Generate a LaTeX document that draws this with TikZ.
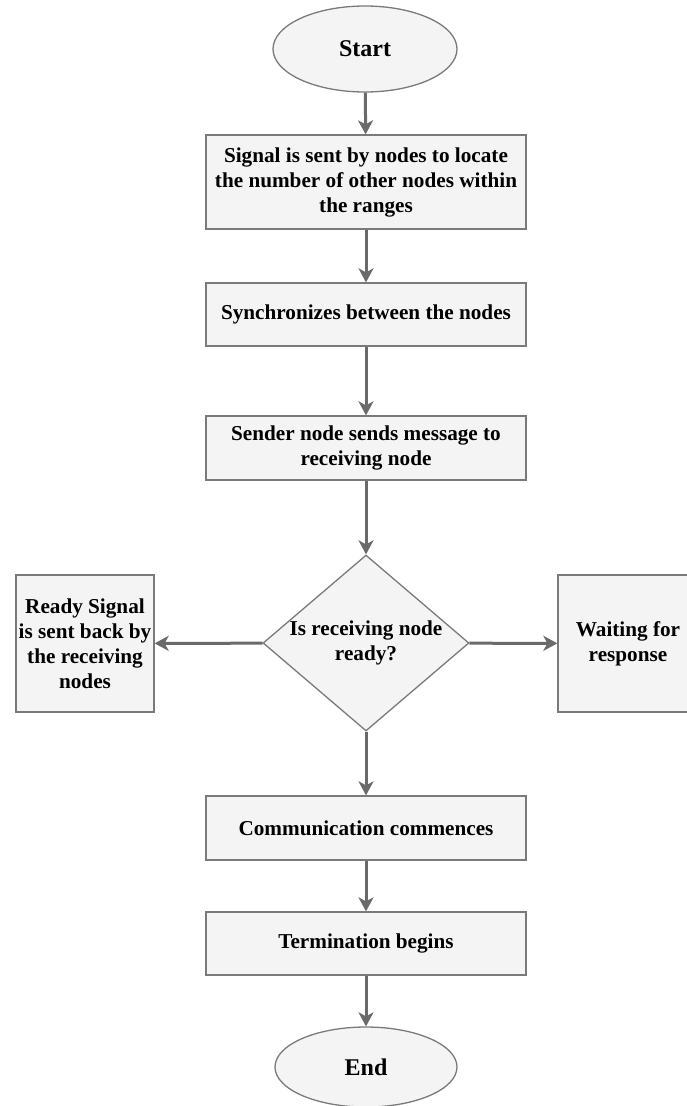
\documentclass[tikz,border=0pt]{standalone}
\usepackage{fontspec}
\setmainfont{Liberation Serif}
\usetikzlibrary{shapes.geometric,arrows.meta}
\definecolor{boxfill}{HTML}{F4F4F4}
\definecolor{boxline}{HTML}{7A7A7A}
\definecolor{arrowcol}{HTML}{6A6A6A}
\begin{document}
\begin{tikzpicture}[x=1pt,y=-1pt,
  base/.style={draw=boxline,fill=boxfill,line width=1.3pt,inner sep=0pt,align=center,
    font=\fontsize{21.2}{25}\selectfont\bfseries},
  procbox/.style={base,rectangle,minimum width=320pt},
  term/.style={base,ellipse,font=\fontsize{24}{28}\selectfont\bfseries},
  decide/.style={base,diamond,inner sep=-22pt,minimum width=206pt,minimum height=176pt},
  sidebox/.style={base,rectangle},
  flow/.style={draw=arrowcol,line width=3pt,-{Stealth[length=14pt,width=15pt,inset=4pt]}}]
\useasboundingbox (0,0) rectangle (686,1106);
\node[term,minimum width=184pt,minimum height=86pt] (start) at (365,49) {Start};
\node[procbox,minimum height=94pt] (b1) at (366,182) {Signal is sent by nodes to locate\\the number of other nodes within\\the ranges};
\node[procbox,minimum height=63pt] (b2) at (366,314.5) {Synchronizes between the nodes};
\node[procbox,minimum height=64pt] (b3) at (366,448) {Sender node sends message to\\receiving node};
\node[decide] (d) at (366,643) {Is receiving node\\ready?};
\node[sidebox,minimum width=138pt,minimum height=137pt] (left) at (85,643.5) {Ready Signal\\is sent back by\\the receiving\\nodes};
\node[sidebox,minimum width=140pt,minimum height=137pt] (right) at (628,643.5) {Waiting for\\response};
\node[procbox,minimum height=64pt] (b4) at (366,828) {Communication commences};
\node[procbox,minimum height=63pt] (b5) at (366,943.5) {Termination begins};
\node[term,minimum width=182pt,minimum height=80pt] (end) at (366,1067) {End};
\draw[flow] (start) -- (b1);
\draw[flow] (b1) -- (b2);
\draw[flow] (b2) -- (b3);
\draw[flow] (b3) -- (d);
\draw[flow] (d) -- (left);
\draw[flow] (d) -- (right);
\draw[flow] (d) -- (b4);
\draw[flow] (b4) -- (b5);
\draw[flow] (b5) -- (end);
\end{tikzpicture}
\end{document}
